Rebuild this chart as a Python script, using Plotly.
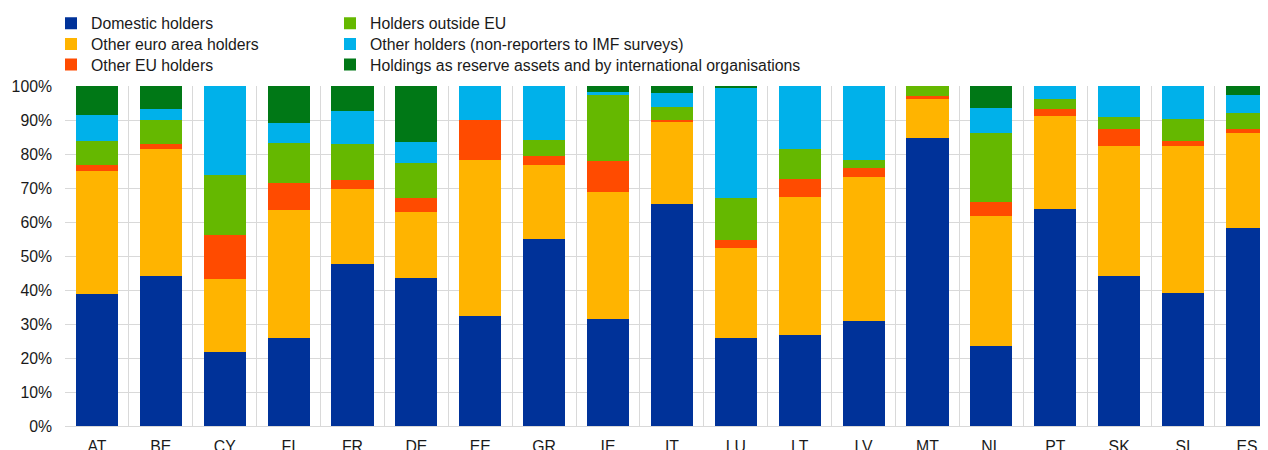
import plotly.graph_objects as go

categories = ["AT", "BE", "CY", "FI", "FR", "DE", "EE", "GR", "IE", "IT",
              "LU", "LT", "LV", "MT", "NL", "PT", "SK", "SI", "ES"]

domestic = [38.7, 44.2, 21.7, 25.8, 47.7, 43.4, 32.5, 55.0, 31.6, 65.3,
            26.0, 26.8, 31.0, 84.8, 23.4, 63.7, 44.2, 39.0, 58.1]
other_ea = [36.4, 37.3, 21.5, 37.7, 22.0, 19.4, 45.7, 21.7, 37.2, 24.1,
            26.5, 40.6, 42.2, 11.3, 38.4, 27.5, 38.1, 43.5, 28.2]
other_eu = [1.8, 1.3, 12.9, 8.0, 2.7, 4.3, 11.9, 2.8, 9.0, 0.7,
            2.1, 5.3, 2.8, 1.0, 4.2, 1.9, 5.0, 1.3, 1.0]
outside_eu = [6.8, 7.2, 17.7, 11.7, 10.4, 10.4, 0.0, 4.5, 19.7, 3.7,
              12.5, 8.7, 2.2, 2.9, 20.3, 3.2, 3.5, 6.4, 4.8]
other_holders = [7.8, 3.2, 26.2, 5.9, 9.8, 5.9, 9.9, 16.0, 0.7, 4.1,
                 32.3, 18.6, 21.8, 0.0, 7.1, 3.7, 9.2, 9.8, 5.3]
reserve = [8.5, 6.8, 0.0, 10.9, 7.4, 16.6, 0.0, 0.0, 1.8, 2.1,
           0.6, 0.0, 0.0, 0.0, 6.6, 0.0, 0.0, 0.0, 2.6]

series_names = [
    "Domestic holders",
    "Other euro area holders",
    "Other EU holders",
    "Holders outside EU",
    "Other holders (non-reporters to IMF surveys)",
    "Holdings as reserve assets and by international organisations",
]
series_values = [domestic, other_ea, other_eu, outside_eu, other_holders, reserve]
colors = ["#003299", "#FFB400", "#FF4B00", "#65B800", "#00B1EA", "#007816"]

FONT = "Liberation Sans, Arial, sans-serif"
FS = 15.8
TXT = "#1a1a1a"

# legend layout: two columns of three rows (pixel positions in the figure)
legend_x = [43, 43, 43, 322, 322, 322]
legend_y = [15.5, 36.2, 56.8, 15.5, 36.2, 56.8]

W, H = 1268, 450

fig = go.Figure()
legend_layouts = {}
for i, (name, vals, color) in enumerate(zip(series_names, series_values, colors)):
    key = "legend" if i == 0 else f"legend{i + 1}"
    fig.add_trace(go.Bar(
        x=categories, y=vals, name=name, legend=key, showlegend=True,
        marker=dict(color=color, line=dict(width=0)),
        width=0.66,
    ))
    legend_layouts[key] = dict(
        xref="container", yref="container", xanchor="left", yanchor="middle",
        x=legend_x[i] / W, y=1 - legend_y[i] / H,
        orientation="v", font=dict(family=FONT, size=FS, color=TXT),
        bgcolor="rgba(0,0,0,0)", borderwidth=0, itemclick=False,
    )

fig.update_layout(
    width=W, height=H,
    showlegend=True,
    margin=dict(l=57, r=8, t=78, b=32, autoexpand=False),
    barmode="stack",
    paper_bgcolor="white", plot_bgcolor="white",
    font=dict(family=FONT, size=FS, color=TXT),
    **legend_layouts,
)

fig.update_xaxes(
    type="category", range=[-0.5, 18.33], tickson="boundaries",
    showgrid=True, gridcolor="#d9d9d9", gridwidth=1,
    showline=True, linecolor="#d9d9d9", linewidth=1,
    ticks="", ticklabelstandoff=6, tickangle=0,
    tickfont=dict(family=FONT, size=FS, color=TXT),
)
fig.update_yaxes(
    range=[0, 100], dtick=10, ticksuffix="%",
    showgrid=True, gridcolor="#d9d9d9", gridwidth=1,
    zeroline=False, ticks="", ticklabelstandoff=12,
    tickfont=dict(family=FONT, size=FS, color=TXT),
)

fig.write_html("out.html")
